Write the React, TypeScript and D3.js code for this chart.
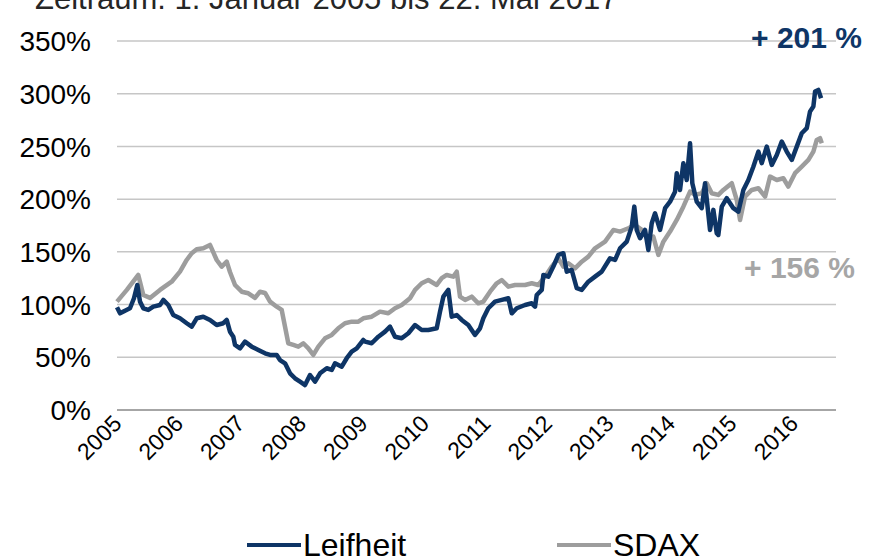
import React, { useEffect, useRef } from 'react';
import * as d3 from 'd3';

// Position along the category axis (one unit per year label) and indexed performance in %
const leifheitPos = [0.0, 0.049, 0.13, 0.211, 0.276, 0.33, 0.374, 0.428, 0.509, 0.59, 0.699, 0.753, 0.834, 0.915, 1.024, 1.133, 1.215, 1.296, 1.403, 1.512, 1.621, 1.728, 1.784, 1.837, 1.891, 1.919, 2.0, 2.081, 2.19, 2.298, 2.407, 2.488, 2.597, 2.65, 2.732, 2.813, 2.894, 2.976, 3.057, 3.138, 3.22, 3.301, 3.41, 3.491, 3.545, 3.654, 3.735, 3.816, 3.898, 4.005, 4.033, 4.141, 4.249, 4.358, 4.439, 4.52, 4.629, 4.737, 4.846, 4.954, 5.062, 5.198, 5.252, 5.306, 5.387, 5.442, 5.524, 5.605, 5.712, 5.821, 5.902, 5.956, 6.037, 6.146, 6.255, 6.363, 6.418, 6.499, 6.634, 6.743, 6.797, 6.824, 6.906, 6.932, 7.013, 7.094, 7.176, 7.257, 7.312, 7.393, 7.475, 7.556, 7.663, 7.772, 7.881, 8.016, 8.098, 8.179, 8.288, 8.369, 8.411, 8.45, 8.504, 8.585, 8.639, 8.694, 8.748, 8.829, 8.911, 8.992, 9.073, 9.101, 9.154, 9.208, 9.263, 9.317, 9.354, 9.426, 9.507, 9.561, 9.642, 9.696, 9.751, 9.777, 9.833, 9.914, 10.021, 10.102, 10.184, 10.265, 10.346, 10.428, 10.483, 10.564, 10.646, 10.727, 10.808, 10.889, 10.971, 11.052, 11.133, 11.215, 11.268, 11.322, 11.35, 11.403, 11.447];
const leifheitPct = [97.4, 91.7, 94.2, 96.5, 106.0, 118.6, 102.8, 96.5, 94.9, 98.0, 99.6, 104.4, 99.6, 90.1, 87.0, 82.3, 79.0, 87.0, 88.5, 85.4, 80.6, 82.3, 85.4, 74.3, 69.5, 61.7, 58.5, 64.8, 60.1, 56.9, 53.8, 52.2, 52.2, 47.4, 44.3, 34.8, 30.1, 26.9, 23.7, 33.2, 26.9, 34.8, 39.6, 38.0, 44.3, 41.1, 49.1, 55.3, 58.5, 66.4, 64.8, 63.3, 69.5, 74.3, 79.0, 69.5, 68.0, 72.8, 80.6, 75.9, 75.9, 77.5, 93.3, 107.5, 113.9, 88.5, 90.1, 85.4, 80.6, 71.2, 77.5, 87.0, 96.5, 102.8, 104.4, 106.0, 91.7, 96.5, 99.6, 101.2, 98.0, 109.1, 113.9, 128.1, 126.5, 136.0, 147.1, 148.7, 131.2, 132.8, 115.5, 113.9, 121.7, 126.5, 131.2, 143.9, 142.3, 153.4, 159.7, 173.9, 192.9, 170.8, 162.9, 170.8, 151.8, 177.1, 186.6, 170.8, 191.4, 197.6, 207.1, 224.6, 208.7, 234.1, 218.2, 253.0, 215.1, 197.6, 191.4, 215.1, 170.8, 189.8, 167.7, 166.0, 192.9, 200.9, 191.4, 188.1, 208.7, 218.2, 230.8, 245.1, 234.1, 249.8, 232.5, 241.9, 254.6, 245.1, 237.2, 249.8, 262.5, 267.3, 283.2, 287.8, 302.0, 303.6, 295.7];

const sdaxPos = [0.0, 0.16, 0.346, 0.428, 0.537, 0.699, 0.889, 1.024, 1.133, 1.215, 1.296, 1.403, 1.512, 1.621, 1.702, 1.784, 1.837, 1.919, 2.028, 2.135, 2.244, 2.325, 2.407, 2.488, 2.597, 2.678, 2.732, 2.785, 2.867, 2.948, 3.029, 3.111, 3.192, 3.273, 3.382, 3.491, 3.598, 3.707, 3.816, 3.924, 4.005, 4.141, 4.276, 4.411, 4.52, 4.629, 4.764, 4.846, 4.954, 5.062, 5.198, 5.28, 5.361, 5.468, 5.524, 5.577, 5.659, 5.767, 5.875, 5.956, 6.065, 6.174, 6.255, 6.363, 6.472, 6.634, 6.743, 6.85, 6.959, 7.068, 7.176, 7.257, 7.338, 7.447, 7.556, 7.663, 7.772, 7.935, 8.07, 8.179, 8.314, 8.423, 8.532, 8.639, 8.72, 8.802, 8.883, 8.992, 9.101, 9.208, 9.317, 9.398, 9.507, 9.589, 9.67, 9.777, 9.859, 9.995, 10.076, 10.13, 10.211, 10.32, 10.428, 10.537, 10.618, 10.727, 10.834, 10.915, 11.024, 11.133, 11.241, 11.322, 11.377, 11.431, 11.459];
const sdaxPct = [102.8, 113.9, 128.1, 109.1, 106.3, 113.9, 121.7, 131.2, 142.3, 148.7, 152.5, 153.4, 156.6, 142.3, 136.0, 140.7, 130.9, 118.6, 112.2, 110.7, 106.3, 112.2, 111.0, 102.8, 98.0, 94.9, 79.0, 63.3, 61.7, 60.1, 63.3, 58.5, 52.2, 60.1, 68.0, 71.2, 77.5, 82.3, 83.8, 83.8, 87.0, 88.5, 93.3, 91.7, 96.5, 99.6, 106.0, 113.9, 120.2, 123.3, 118.6, 125.0, 128.1, 126.5, 131.2, 107.5, 104.4, 107.5, 101.2, 102.8, 112.2, 120.2, 123.3, 117.0, 118.6, 118.6, 120.2, 118.6, 126.5, 136.0, 143.9, 136.0, 139.2, 134.4, 140.7, 145.5, 153.4, 159.7, 170.8, 169.2, 172.4, 175.5, 170.8, 161.3, 164.4, 147.1, 159.7, 169.2, 180.3, 192.9, 207.1, 204.0, 205.6, 215.1, 205.6, 204.0, 208.7, 215.1, 199.2, 180.3, 202.4, 208.7, 210.3, 202.4, 221.4, 218.2, 219.8, 211.9, 224.6, 230.8, 237.2, 245.1, 256.2, 257.8, 253.0];

const yearLabels = ['2005', '2006', '2007', '2008', '2009', '2010', '2011', '2012', '2013', '2014', '2015', '2016'];
const yTicks = [0, 50, 100, 150, 200, 250, 300, 350];

const NAVY = '#0e3566';
const GREY = '#9d9d9d';
const FONT = '"Liberation Sans", Arial, sans-serif';

const App = () => {
    const svgRef = useRef(null);

    useEffect(() => {
        const width = 879;
        const height = 558;
        const margin = { top: 41, right: 43, bottom: 148, left: 117 };

        const svg = d3.select(svgRef.current)
            .attr('width', width)
            .attr('height', height)
            .style('background', '#fff')
            .style('font-family', FONT);

        svg.selectAll('*').remove();

        const x = d3.scaleLinear()
            .domain([0, 11.69])
            .range([margin.left, width - margin.right]);

        const y = d3.scaleLinear()
            .domain([0, 350])
            .range([height - margin.bottom, margin.top]);

        // Title (cut off at the top edge)
        svg.append('text')
            .attr('x', 35)
            .attr('y', 9)
            .attr('fill', '#262626')
            .attr('font-size', 31)
            .text('Zeitraum: 1. Januar 2005 bis 22. Mai 2017');

        // Gridlines
        svg.append('g')
            .selectAll('line')
            .data(yTicks)
            .join('line')
            .attr('x1', x.range()[0])
            .attr('x2', x.range()[1])
            .attr('y1', d => y(d))
            .attr('y2', d => y(d))
            .attr('stroke', d => (d === 0 ? '#a6a6a6' : '#c6c6c6'))
            .attr('stroke-width', d => (d === 0 ? 2 : 1.5));

        // Y labels
        svg.append('g')
            .selectAll('text')
            .data(yTicks)
            .join('text')
            .attr('x', 91)
            .attr('y', d => y(d))
            .attr('dy', '0.36em')
            .attr('text-anchor', 'end')
            .attr('font-size', 28)
            .attr('fill', '#000')
            .text(d => `${d}%`);

        // X labels, rotated
        svg.append('g')
            .selectAll('text')
            .data(yearLabels)
            .join('text')
            .attr('text-anchor', 'end')
            .attr('font-size', 23)
            .attr('fill', '#000')
            .attr('transform', (d, i) => `translate(${x(i) + 6},${y(0) + 15}) rotate(-45)`)
            .text(d => d);

        const line = d3.line()
            .x(d => x(d[0]))
            .y(d => y(d[1]));

        const sdax = sdaxPos.map((p, i) => [p, sdaxPct[i]]);
        const leifheit = leifheitPos.map((p, i) => [p, leifheitPct[i]]);

        svg.append('path')
            .datum(sdax)
            .attr('d', line)
            .attr('fill', 'none')
            .attr('stroke', GREY)
            .attr('stroke-width', 4.5)
            .attr('stroke-linejoin', 'round');

        svg.append('path')
            .datum(leifheit)
            .attr('d', line)
            .attr('fill', 'none')
            .attr('stroke', NAVY)
            .attr('stroke-width', 4.5)
            .attr('stroke-linejoin', 'round');

        // Annotations
        svg.append('text')
            .attr('x', 862)
            .attr('y', y(350) + 7)
            .attr('text-anchor', 'end')
            .attr('font-size', 30)
            .attr('font-weight', 'bold')
            .attr('fill', NAVY)
            .text('+ 201 %');

        svg.append('text')
            .attr('x', 855)
            .attr('y', y(150) + 26)
            .attr('text-anchor', 'end')
            .attr('font-size', 30)
            .attr('font-weight', 'bold')
            .attr('fill', '#a6a6a6')
            .text('+ 156 %');

        // Legend
        const legend = [
            { name: 'Leifheit', color: NAVY, x: 247 },
            { name: 'SDAX', color: GREY, x: 557 },
        ];
        const lg = svg.append('g')
            .selectAll('g')
            .data(legend)
            .join('g')
            .attr('transform', d => `translate(${d.x},545)`);
        lg.append('line')
            .attr('x1', 0)
            .attr('x2', 54)
            .attr('stroke', d => d.color)
            .attr('stroke-width', 4);
        lg.append('text')
            .attr('x', 56)
            .attr('y', 11)
            .attr('font-size', 32)
            .attr('fill', '#000')
            .text(d => d.name);
    }, []);

    return (
        <div style={{ position: 'absolute', left: 0, top: 0 }}>
            <svg ref={svgRef}></svg>
        </div>
    );
};

export default App;
